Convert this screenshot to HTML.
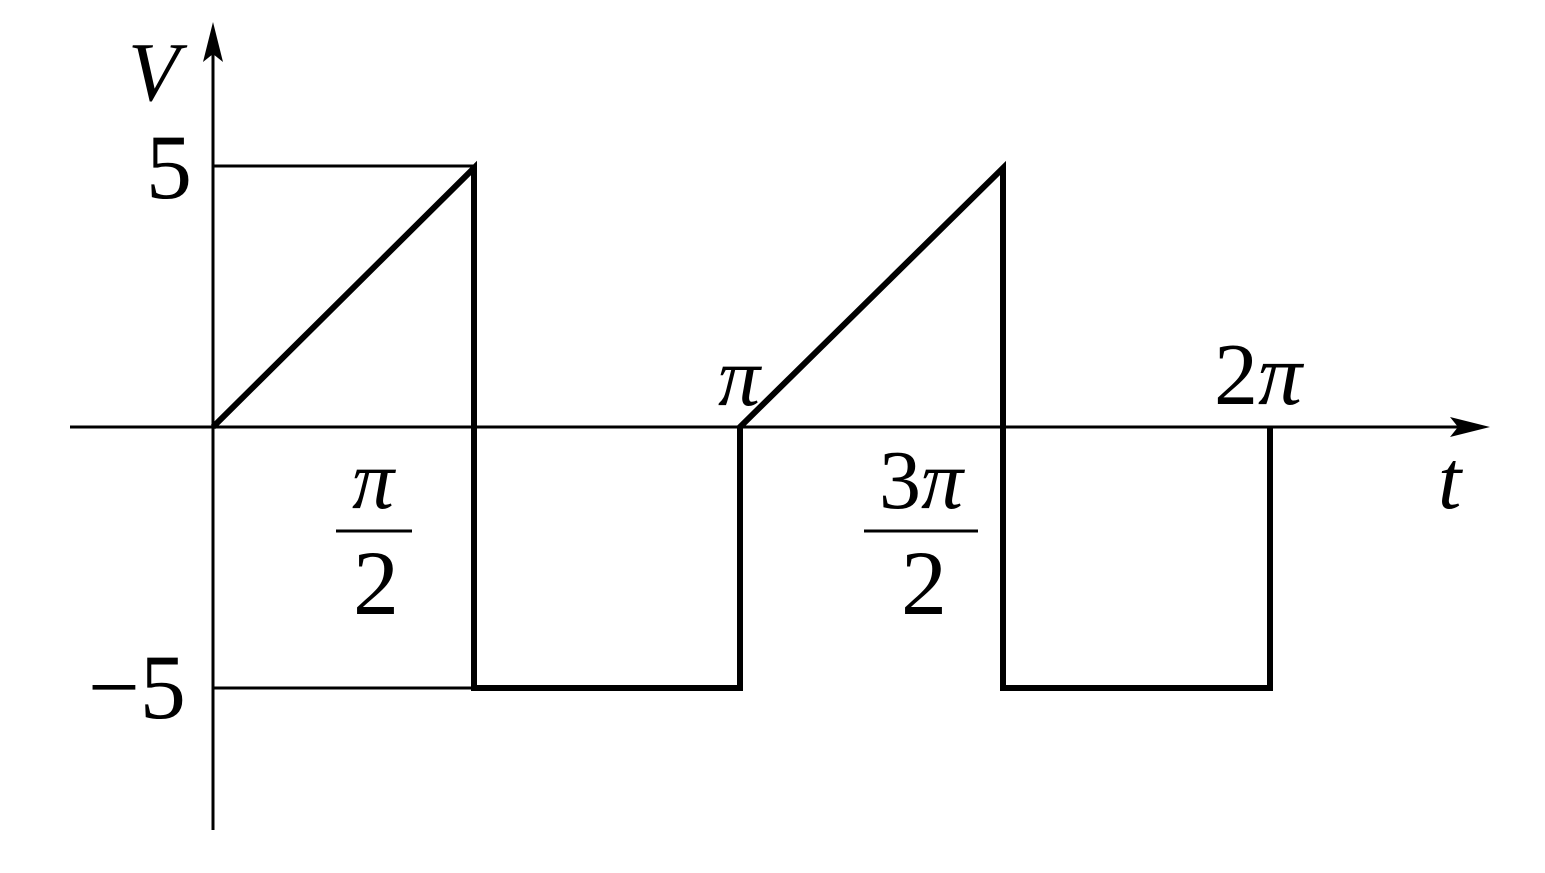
<!DOCTYPE html>
<html><head><style>body{margin:0;background:#fff}svg{display:block}text{font-family:"Liberation Serif",serif;fill:#000}</style></head><body>
<svg width="1545" height="873" viewBox="0 0 1545 873">
<line x1="213" y1="830" x2="213" y2="40" stroke="#000" stroke-width="3"/>
<polygon points="213,22 203,62 213,54 223,62" fill="#000"/>
<line x1="70" y1="427" x2="1470" y2="427" stroke="#000" stroke-width="3"/>
<polygon points="1490,427 1450,417 1458,427 1450,437" fill="#000"/>
<line x1="213" y1="166" x2="473" y2="166" stroke="#000" stroke-width="3"/>
<line x1="213" y1="688" x2="473" y2="688" stroke="#000" stroke-width="3"/>
<polyline points="213,427 474,168 474,688 740,688 740,427 1003,168 1003,688 1270,688 1270,427" fill="none" stroke="#000" stroke-width="6" stroke-linejoin="miter"/>
<text x="128" y="100" font-size="84" font-style="italic">V</text>
<text x="146" y="198" font-size="92">5</text>
<text x="88" y="718" font-size="92">−5</text>
<text x="718" y="405" font-size="84" font-style="italic">π</text>
<text x="373" y="508" font-size="84" font-style="italic" text-anchor="middle">π</text>
<line x1="336" y1="531" x2="412" y2="531" stroke="#000" stroke-width="3"/>
<text x="376" y="614" font-size="92" text-anchor="middle">2</text>
<text x="921" y="508" font-size="84" text-anchor="middle"><tspan>3</tspan><tspan font-style="italic">π</tspan></text>
<line x1="864" y1="531" x2="978" y2="531" stroke="#000" stroke-width="3"/>
<text x="924" y="614" font-size="92" text-anchor="middle">2</text>
<text x="1214" y="404" font-size="88"><tspan>2</tspan><tspan font-style="italic">π</tspan></text>
<text x="1438" y="508" font-size="84" font-style="italic">t</text>
</svg>
</body></html>
